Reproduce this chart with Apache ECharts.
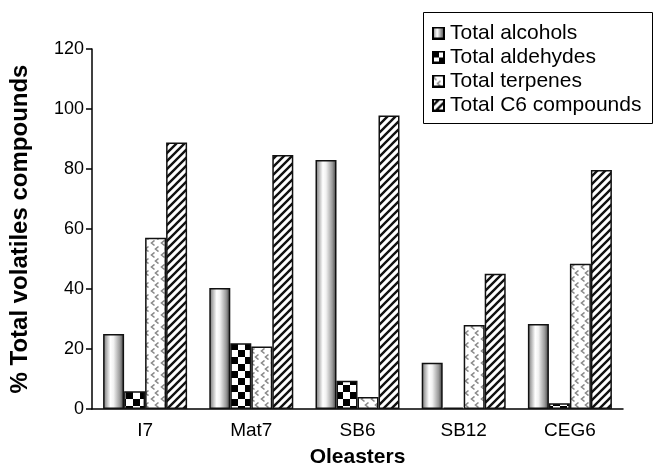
<!DOCTYPE html>
<html>
<head>
<meta charset="utf-8">
<script src="https://cdn.jsdelivr.net/npm/echarts@6/dist/echarts.min.js"></script>
<style>
html, body { margin: 0; padding: 0; background: #fff; }
#chart { width: 662px; height: 468px; }
</style>
</head>
<body>
<div id="chart"></div>
<script>
var categories = ['I7', 'Mat7', 'SB6', 'SB12', 'CEG6'];
var seriesNames = ['Total alcohols', 'Total aldehydes', 'Total terpenes', 'Total C6 compounds'];
var alcohols = [25, 40.3, 83, 15.4, 28.3];
var aldehydes = [5.9, 21.9, 9.4, 0.5, 1.9];
var terpenes = [57.1, 20.8, 4, 28, 48.4];
var c6 = [88.8, 84.7, 97.8, 45.1, 79.7];
var yTicks = [0, 20, 40, 60, 80, 100, 120];

// fill patterns drawn on small canvases
function makeCanvas(w, h, draw) {
    var c = document.createElement('canvas');
    c.width = w; c.height = h;
    var ctx = c.getContext('2d');
    ctx.fillStyle = '#fff';
    ctx.fillRect(0, 0, w, h);
    draw(ctx, w, h);
    return c;
}

var checker = makeCanvas(14, 14, function (ctx) {
    ctx.fillStyle = '#000';
    ctx.fillRect(0, 0, 7, 7);
    ctx.fillRect(7, 7, 7, 7);
});

var dots = makeCanvas(10, 12, function (ctx) {
    ctx.strokeStyle = '#8a8a8a';
    ctx.lineWidth = 1.6;
    ctx.beginPath();
    ctx.moveTo(4.5, 0.5); ctx.lineTo(1.5, 3); ctx.lineTo(4.5, 5.5);
    ctx.moveTo(8.5, 6.5); ctx.lineTo(5.5, 9); ctx.lineTo(8.5, 11.5);
    ctx.stroke();
});

var stripes = makeCanvas(8, 8, function (ctx) {
    ctx.strokeStyle = '#111';
    ctx.lineWidth = 2.4;
    ctx.beginPath();
    ctx.moveTo(-2, 10); ctx.lineTo(10, -2);
    ctx.moveTo(-6, 6); ctx.lineTo(6, -6);
    ctx.moveTo(2, 14); ctx.lineTo(14, 2);
    ctx.stroke();
});

var cylinder = new echarts.graphic.LinearGradient(0, 0, 1, 0, [
    { offset: 0, color: '#707070' },
    { offset: 0.35, color: '#ffffff' },
    { offset: 0.5, color: '#f2f2f2' },
    { offset: 0.8, color: '#9a9a9a' },
    { offset: 1, color: '#3a3a3a' }
]);

var fills = [cylinder, { image: checker, repeat: 'repeat' }, { image: dots, repeat: 'repeat' }, { image: stripes, repeat: 'repeat' }];

// legend icons
function iconFor(i) {
    var c = makeCanvas(13, 13, function (ctx) {
        if (i === 0) {
            var g = ctx.createLinearGradient(0, 0, 13, 0);
            g.addColorStop(0, '#707070'); g.addColorStop(0.4, '#fff'); g.addColorStop(1, '#333');
            ctx.fillStyle = g;
        } else {
            ctx.fillStyle = ctx.createPattern([null, checker, dots, stripes][i], 'repeat');
        }
        ctx.fillRect(0, 0, 13, 13);
        ctx.strokeStyle = '#000';
        ctx.lineWidth = 2;
        ctx.strokeRect(1, 1, 11, 11);
    });
    return 'image://' + c.toDataURL();
}

var valueLists = [alcohols, aldehydes, terpenes, c6];
var series = seriesNames.map(function (name, i) {
    return {
        name: name,
        type: 'bar',
        barWidth: 21,
        barGap: '0%',
        data: valueLists[i],
        itemStyle: { color: fills[i], borderColor: '#111', borderWidth: 1.5 },
        emphasis: { disabled: true }
    };
});

var chart = echarts.init(document.getElementById('chart'));
chart.setOption({
    animation: false,
    backgroundColor: '#fff',
    textStyle: { fontFamily: 'Liberation Sans, Arial, sans-serif', color: '#000' },
    grid: { left: 92, right: 39, top: 49, bottom: 59, outerBoundsMode: 'none', containLabel: false },
    graphic: [{
        type: 'rect',
        shape: { x: 423.5, y: 12.5, width: 229, height: 111 },
        style: { fill: '#fff', stroke: '#000', lineWidth: 1 },
        z: 90
    }],
    legend: {
        orient: 'vertical',
        left: 432,
        top: 21,
        z: 100,
        itemWidth: 13,
        itemHeight: 13,
        itemGap: 0,
        padding: 0,
        textStyle: { fontSize: 21, color: '#000', lineHeight: 24 },
        data: seriesNames.map(function (n, i) { return { name: n, icon: iconFor(i) }; })
    },
    xAxis: {
        type: 'category',
        data: categories,
        name: 'Oleasters',
        nameLocation: 'middle',
        nameGap: 38,
        nameTextStyle: { fontSize: 21, fontWeight: 'bold', color: '#000' },
        axisLine: { lineStyle: { color: '#000', width: 1.5 } },
        axisTick: { length: 6, lineStyle: { color: '#000', width: 1.5 } },
        axisLabel: { fontSize: 19, color: '#000', margin: 12 }
    },
    yAxis: {
        type: 'value',
        min: yTicks[0],
        max: yTicks[yTicks.length - 1],
        interval: yTicks[1] - yTicks[0],
        name: '% Total volatiles compounds',
        nameLocation: 'middle',
        nameGap: 60,
        nameTextStyle: { fontSize: 24, fontWeight: 'bold', color: '#000' },
        splitLine: { show: false },
        axisLine: { show: true, lineStyle: { color: '#000', width: 1.5 } },
        axisTick: { show: true, length: 6, lineStyle: { color: '#000', width: 1.5 } },
        axisLabel: { fontSize: 18, color: '#000', margin: 8 }
    },
    series: series
});
</script>
</body>
</html>
